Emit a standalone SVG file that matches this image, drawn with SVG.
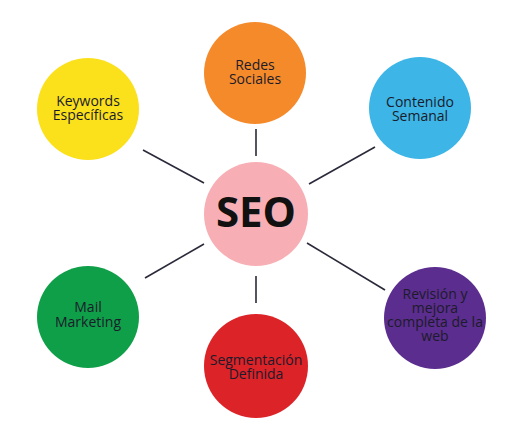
<svg xmlns="http://www.w3.org/2000/svg" width="512" height="429" viewBox="0 0 512 429">
<style>
.t{font-family:"Open Sans","Noto Sans",sans-serif;font-size:14px;fill:#1b1b2a;text-anchor:middle}
.c{stroke:#2a2a3a;stroke-width:1.6;fill:none}
</style>
<rect width="512" height="429" fill="#ffffff"/>
<g id="connectors">
<line class="c" x1="256" y1="129" x2="256" y2="156"/>
<line class="c" x1="256" y1="276" x2="256" y2="303"/>
<line class="c" x1="143" y1="150" x2="204" y2="183"/>
<line class="c" x1="309" y1="184" x2="375" y2="147"/>
<line class="c" x1="145" y1="278" x2="204" y2="244"/>
<line class="c" x1="307" y1="243" x2="385" y2="290"/>
</g>
<g id="seo"><circle cx="256" cy="214" r="52" fill="#f7afb5"/><text x="256" y="227" font-family="Open Sans,sans-serif" font-weight="bold" font-size="42" fill="#111" text-anchor="middle">SEO</text></g>
<g id="redes"><circle cx="255" cy="73" r="51" fill="#f58a2b"/><text class="t" x="255" y="70">Redes</text><text class="t" x="255" y="84">Sociales</text></g>
<g id="contenido"><circle cx="420" cy="108" r="51" fill="#3db6e7"/><text class="t" x="420" y="107">Contenido</text><text class="t" x="420" y="121">Semanal</text></g>
<g id="keywords"><circle cx="88" cy="109" r="51" fill="#fbe01c"/><text class="t" x="88" y="106">Keywords</text><text class="t" x="88" y="120">Específicas</text></g>
<g id="mail"><circle cx="88" cy="317" r="51" fill="#0f9f49"/><text class="t" x="88" y="312">Mail</text><text class="t" x="88" y="327">Marketing</text></g>
<g id="segmentacion"><circle cx="256" cy="366" r="52" fill="#dc2328"/><text class="t" x="256" y="365">Segmentación</text><text class="t" x="256" y="379">Definida</text></g>
<g id="revision"><circle cx="435" cy="318" r="51" fill="#5b2d8e"/><text class="t" x="435" y="299">Revisión y</text><text class="t" x="435" y="313">mejora</text><text class="t" x="435" y="327">completa de la</text><text class="t" x="435" y="341">web</text></g>
</svg>
